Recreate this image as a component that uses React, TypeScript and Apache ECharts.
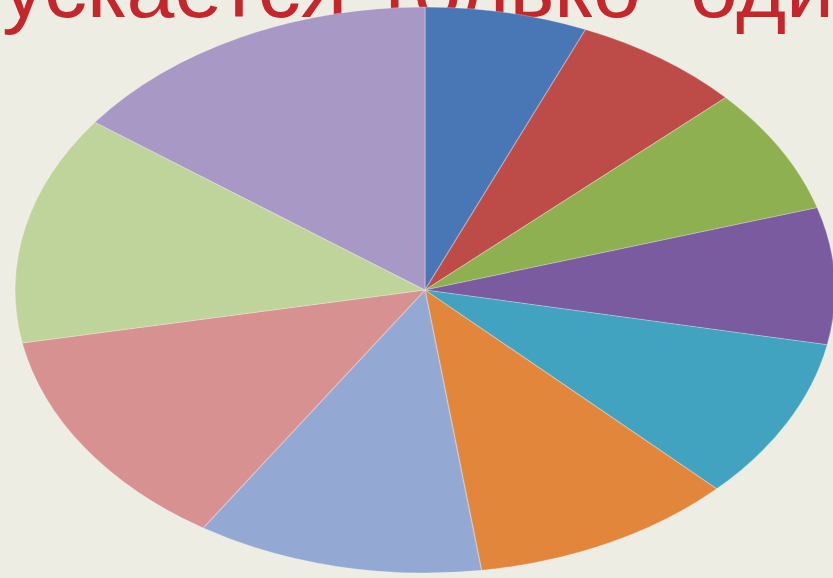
import React, { useEffect, useRef } from "react";
import * as echarts from "echarts";

const categories = ["1", "2", "3", "4", "5", "6", "7", "8", "9", "10"];
const values = [6.4, 6.7, 7.2, 7.8, 9.3, 10.4, 11.3, 12.9, 13.1, 14.9];
const colors = [
  "#4977B6", "#BD4B47", "#8EB050", "#7A5BA0", "#41A3C0",
  "#E2863C", "#93A9D3", "#D69190", "#BFD49A", "#A898C6",
];
const titleWords = ["ускается", "только", "один"];
const titleWordX = [2, 375, 690];

const BG = "#EEEDE3";
const RY = 283;
const RX = 410;
const CX = 425;
const CY = 290;
const FS = 86;

export default function App() {
  const textRef = useRef<HTMLDivElement>(null);
  const pieRef = useRef<HTMLDivElement>(null);

  useEffect(() => {
    document.body.style.margin = "0";
    document.body.style.background = BG;
    const tChart = echarts.init(textRef.current!, null, { renderer: "svg" });
    tChart.setOption({
      animation: false,
      backgroundColor: BG,
      graphic: titleWords.map((w, i) => ({
        type: "text",
        x: titleWordX[i],
        y: 21 - FS * 0.9,
        style: {
          text: w,
          fill: "#C4262C",
          font: `${FS}px 'Liberation Sans', Arial, sans-serif`,
        },
      })),
    });
    const pChart = echarts.init(pieRef.current!, null, { renderer: "svg" });
    pChart.setOption({
      animation: false,
      backgroundColor: "transparent",
      series: [
        {
          type: "pie",
          center: [289, CY],
          radius: [0, RY],
          startAngle: 90,
          clockwise: true,
          label: { show: false },
          labelLine: { show: false },
          itemStyle: { borderColor: "rgba(255,255,255,0.25)", borderWidth: 1 },
          emphasis: { disabled: true },
          data: categories.map((c, i) => ({
            name: c,
            value: values[i],
            itemStyle: { color: colors[i] },
          })),
        },
      ],
    });
    return () => {
      tChart.dispose();
      pChart.dispose();
    };
  }, []);

  return (
    <div style={{ position: "fixed", left: 0, top: 0, width: 833, height: 578, overflow: "hidden", background: BG }}>
      <div ref={textRef} style={{ position: "absolute", left: 0, top: 0, width: 833, height: 578 }} />
      <div
        ref={pieRef}
        style={{
          position: "absolute",
          left: CX - 289,
          top: 0,
          width: 578,
          height: 578,
          transform: `scaleX(${RX / RY})`,
          transformOrigin: `289px ${CY}px`,
        }}
      />
    </div>
  );
}
